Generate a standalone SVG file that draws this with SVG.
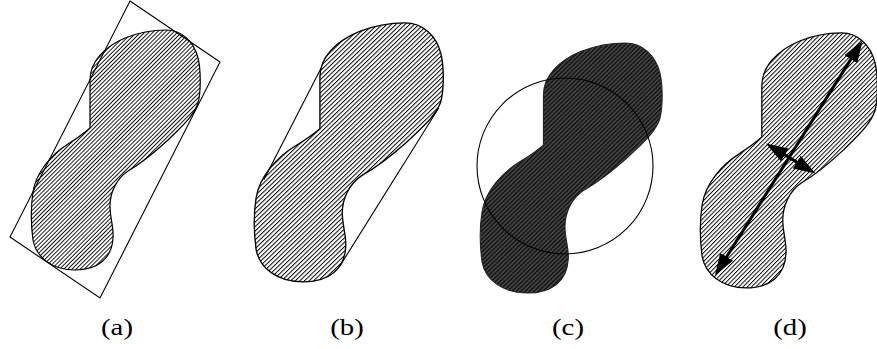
<svg xmlns="http://www.w3.org/2000/svg" xmlns:xlink="http://www.w3.org/1999/xlink" width="877" height="349" viewBox="0 0 877 349">
<style>
.outline{stroke:#000;stroke-width:1.2;vector-effect:non-scaling-stroke}
.thin{fill:none;stroke:#000;stroke-width:1.1;vector-effect:non-scaling-stroke}
.light{fill:url(#hatch)}
.dark{fill:url(#hatchDark);stroke:#222;stroke-width:1;vector-effect:non-scaling-stroke}
.arrow{stroke:#000;stroke-width:3;fill:none;marker-start:url(#ah);marker-end:url(#ah)}
.lbl{font-family:"Liberation Serif","Times New Roman",serif;font-size:24px;fill:#000;text-anchor:middle}
</style>
<defs>
<pattern id="hatch" patternUnits="userSpaceOnUse" width="2.9" height="10" patternTransform="rotate(45)">
<rect width="2.9" height="10" fill="#fff"/>
<rect x="0" y="0" width="0.9" height="10" fill="#000"/>
</pattern>
<pattern id="hatchDark" patternUnits="userSpaceOnUse" width="2.9" height="10" patternTransform="rotate(45)">
<rect width="2.9" height="10" fill="#444"/>
<rect x="0" y="0" width="1.3" height="10" fill="#111"/>
</pattern>
<path id="blob" d="M90,128 L90,80 C90,62 104,47 125,38 C140,32 155,30 166,30 C182,30 194,42 198,58 C201,70 201,92 198,103 C194,116 180,128 168,140 C155,152 140,164 128,171 C116,179 110,193 110,206 C110,218 114,228 113,238 C112,258 98,270 75,270 C52,270 36,257 33,240 C31,225 31,205 33,192 C36,172 52,154 68,144 C76,139 82,135 90,128 Z"/>
<marker id="ah" viewBox="0 0 22 15" refX="14" refY="7.5" markerWidth="22" markerHeight="15" markerUnits="userSpaceOnUse" orient="auto-start-reverse">
<path d="M0,0 L22,7.5 L0,15 Z" fill="#000"/>
</marker>
</defs>

<g id="panel-a">
<use xlink:href="#blob" href="#blob" class="light outline"/>
<polygon class="thin" points="130,1 220,62 100,298 10,237"/>
<text class="lbl" transform="translate(117,335) scale(1.2,1)">(a)</text>
</g>

<g id="panel-b">
<g transform="matrix(1.119 0 0 1.079 219.2 -9.4)">
<use xlink:href="#blob" href="#blob" class="light outline"/>
<line class="thin" x1="91" y1="72" x2="40" y2="175"/>
<line class="thin" x1="196" y1="109" x2="108" y2="255"/>
</g>
<text class="lbl" transform="translate(347,335) scale(1.2,1)">(b)</text>
</g>

<g id="panel-c">
<g transform="matrix(1.077 0 0 1.042 446.5 11.75)">
<use xlink:href="#blob" href="#blob" class="dark"/>
</g>
<circle class="thin" cx="565" cy="166" r="88"/>
<text class="lbl" transform="translate(568,335) scale(1.2,1)">(c)</text>
</g>

<g id="panel-d">
<g transform="matrix(1.048 0 0 1.0625 667.5 1.1)">
<use xlink:href="#blob" href="#blob" class="light outline"/>
</g>
<text class="lbl" transform="translate(790,335) scale(1.2,1)">(d)</text>
</g>

<g id="connectors">
<line class="arrow" x1="719.2" y1="268.6" x2="858.3" y2="47.4"/>
<line class="arrow" x1="772.8" y1="147.6" x2="808.7" y2="169.4"/>
</g>
</svg>
